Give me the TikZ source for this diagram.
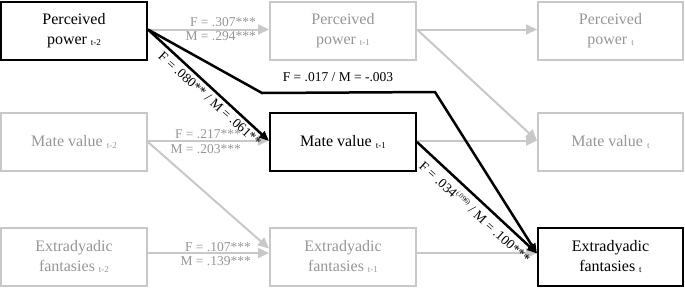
\documentclass[tikz,border=0pt]{standalone}
\usepackage{fontspec}
\setmainfont{Liberation Serif}
\newfontfamily\tms{Liberation Serif}
\usetikzlibrary{arrows.meta}
\definecolor{lgray}{RGB}{200,200,200}
\definecolor{tgray}{RGB}{150,150,150}
\newcommand{\tsub}[1]{\raisebox{-1.5pt}{\fontsize{9}{9}\selectfont #1}}
\begin{document}
\begin{tikzpicture}[x=1pt,y=-1pt,
  box/.style={draw=lgray, line width=2pt, minimum width=146pt, minimum height=58pt,
    align=center, text=tgray, font=\tms\fontsize{16}{20}\selectfont, inner sep=0pt},
  bbox/.style={box, draw=black, text=black},
  garrow/.style={draw=lgray, line width=2pt, -{Triangle[length=11pt,width=10pt]}},
  barrow/.style={draw=black, line width=2.5pt, -{Triangle[length=10pt,width=8pt]}},
  glab/.style={text=tgray, font=\tms\fontsize{13.5}{14}\selectfont, inner sep=0pt},
  blab/.style={text=black, font=\tms\fontsize{13.5}{14}\selectfont, inner sep=0pt}]
\useasboundingbox (0,0) rectangle (685,287);

% boxes
\node[bbox] (pp1) at (74,30.5) {Perceived\\power \tsub{t-2}};
\node[box]  (pp2) at (343,30.5) {Perceived\\power \tsub{t-1}};
\node[box, minimum width=145pt] (pp3) at (610.5,30.5) {Perceived\\power \tsub{t}};

\node[box]  (mv1) at (74,142) {Mate value \tsub{t-2}};
\node[bbox] (mv2) at (343,142) {Mate value \tsub{t-1}};
\node[box, minimum width=145pt] (mv3) at (610.5,142) {Mate value \tsub{t}};

\node[box]  (ef1) at (74,256.5) {Extradyadic\\fantasies \tsub{t-2}};
\node[box]  (ef2) at (343,256.5) {Extradyadic\\fantasies \tsub{t-1}};
\node[bbox, minimum width=145pt] (ef3) at (610.5,256.5) {Extradyadic\\fantasies \tsub{t}};

% gray paths
\draw[garrow] ([yshift=1pt]pp1.east) -- ([yshift=1pt]pp2.west);
\draw[garrow] ([yshift=1pt]pp2.east) -- ([yshift=1pt]pp3.west);
\draw[garrow] ([yshift=1pt]pp2.east) -- ([yshift=1.5pt]mv3.west);
\draw[garrow] ([yshift=1.5pt]mv1.east) -- ([yshift=1.5pt]mv2.west);
\draw[garrow] ([yshift=1.5pt]mv2.east) -- ([yshift=1.5pt]mv3.west);
\draw[garrow] (mv1.east) -- ([yshift=8pt]ef2.west);
\draw[garrow] ([yshift=3.5pt]ef1.east) -- ([yshift=3.5pt]ef2.west);
\draw[garrow] ([yshift=3.5pt]ef2.east) -- ([yshift=3.5pt]ef3.west);

% gray labels
\node[glab, anchor=base east] (l1a) at (256,26) {F = .307***};
\node[glab, anchor=base east] (l1b) at (256,40.5) {M = .294***};
\node[glab, anchor=base east] (l2a) at (241,138) {F = .217***};
\node[glab, anchor=base east] (l2b) at (241,153) {M = .203***};
\node[glab, anchor=base east] (l3a) at (251,251) {F = .107***};
\node[glab, anchor=base east] (l3b) at (251,265) {M = .139***};

% black paths
\coordinate (k1) at (262,93);
\coordinate (k2) at (435,92);
\draw[barrow] ([yshift=1pt]pp1.east) -- ([yshift=1pt]mv2.west);
\draw[barrow] ([yshift=1pt]pp1.east) -- (k1) -- (k2) -- ([yshift=3pt]ef3.west);
\draw[barrow] (mv2.east) -- ([yshift=3pt]ef3.west);

% black labels
\node[blab] (b1) at (338,77) {F = .017 / M = -.003};
\node[blab, rotate=-42] (b2) at (210,99) {F = .080** / M = .061**};
\node[blab, rotate=-42] (b3) at (475,212) {F = .034\textsuperscript{\fontsize{7}{7}\selectfont(.096)} / M = .100***};
\end{tikzpicture}
\end{document}
